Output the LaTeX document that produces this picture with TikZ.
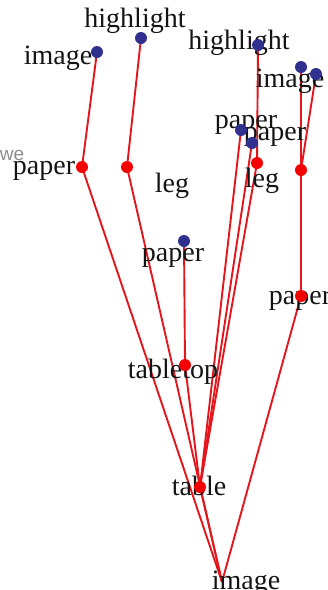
\documentclass[tikz,border=0pt]{standalone}
\usepackage{fontspec}
\setmainfont{Liberation Serif}
\newfontfamily\wefont{Liberation Sans}
\definecolor{linered}{HTML}{E4161C}
\definecolor{dotred}{HTML}{F40000}
\definecolor{dotblue}{HTML}{30308F}
\begin{document}
\begin{tikzpicture}[x=1pt,y=-1pt,
  rdot/.style={circle,fill=dotred,inner sep=0pt,minimum size=12pt},
  bdot/.style={circle,fill=dotblue,inner sep=0pt,minimum size=12pt},
  lbl/.style={font=\fontsize{28}{28}\selectfont,inner sep=0pt,text=black!92},
  link/.style={draw=linered,line width=1.9pt}]
\useasboundingbox (0,0) rectangle (328,590);
% points
\coordinate (r0) at (222,582);
\coordinate (p1) at (82,167);
\coordinate (b1) at (97,52);
\coordinate (l1) at (127,167);
\coordinate (b2) at (141,38);
\coordinate (tb) at (200,487);
\coordinate (tt) at (185,365);
\coordinate (b3) at (184,241);
\coordinate (b4) at (241,130);
\coordinate (b5) at (252,143);
\coordinate (l2) at (257,163);
\coordinate (b6) at (258,45);
\coordinate (p2) at (301,296);
\coordinate (r3) at (301,170);
\coordinate (b7) at (301,67);
\coordinate (b8) at (316,74);
% links
\draw[link] (r0) -- (p1);
\draw[link] (r0) -- (l1);
\draw[link] (r0) -- (tb);
\draw[link] (r0) -- (p2);
\draw[link] (p1) -- (b1);
\draw[link] (l1) -- (b2);
\draw[link] (tb) -- (tt);
\draw[link] (tt) -- (b3);
\draw[link] (tb) -- (b4);
\draw[link] (tb) -- (b5);
\draw[link] (tb) -- (l2);
\draw[link] (l2) -- (b6);
\draw[link] (p2) -- (r3);
\draw[link] (r3) -- (b7);
\draw[link] (r3) -- (b8);
% labels
\node[lbl] (t1) at (58,58) {image};
\node[lbl] (t2) at (135,21) {highlight};
\node[lbl] (t3) at (239,43) {highlight};
\node[lbl] (t4) at (290,81) {image};
\node[lbl] (t5) at (246,125) {paper};
\node[lbl] (t6) at (275,137) {paper};
\node[lbl] (t7) at (262,181) {leg};
\node[lbl] (t8) at (172,186) {leg};
\node[lbl] (t9) at (44,171) {paper};
\node[lbl] (t10) at (173,258) {paper};
\node[lbl] (t11) at (300,301) {paper};
\node[lbl] (t12) at (173,372) {tabletop};
\node[lbl] (t13) at (199,486) {table};
\node[lbl] (t14) at (246,583) {image};
\node[font=\wefont\fontsize{19}{19}\selectfont,text=black!45,inner sep=0pt] (we) at (12,155) {we};
% dots
\node[rdot] (d1) at (p1) {};
\node[rdot] (d2) at (l1) {};
\node[rdot] (d3) at (tb) {};
\node[rdot] (d4) at (tt) {};
\node[rdot] (d5) at (l2) {};
\node[rdot] (d6) at (p2) {};
\node[rdot] (d7) at (r3) {};
\node[bdot] (e1) at (b1) {};
\node[bdot] (e2) at (b2) {};
\node[bdot] (e3) at (b3) {};
\node[bdot] (e4) at (b4) {};
\node[bdot] (e5) at (b5) {};
\node[bdot] (e6) at (b6) {};
\node[bdot] (e7) at (b7) {};
\node[bdot] (e8) at (b8) {};
\end{tikzpicture}
\end{document}
